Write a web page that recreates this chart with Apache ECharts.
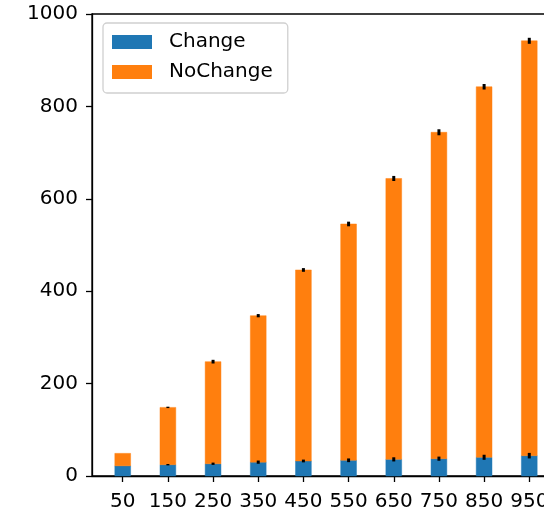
<!DOCTYPE html>
<html>
<head>
<meta charset="utf-8">
<script src="https://cdn.jsdelivr.net/npm/echarts@6/dist/echarts.min.js"></script>
<style>
  html, body { margin: 0; padding: 0; background: #fff; }
  #chart { width: 544px; height: 512px; }
</style>
</head>
<body>
<div id="chart"></div>
<script>
// Group labels along the x axis
var categories = ['50', '150', '250', '350', '450', '550', '650', '750', '850', '950'];
// Mean counts per group
var changeValues   = [22, 24.5, 26.5, 30, 32.5, 34, 36, 37.5, 40.5, 44];
var noChangeValues = [27, 124, 221, 317, 413.5, 511.5, 608, 706.5, 802, 898];
// Half-length of the error bar drawn at the top of each segment
var changeErrors   = [0, 1.5, 2.5, 3.5, 3, 4, 4.5, 4.5, 5.5, 6];
var noChangeErrors = [0, 1.5, 4, 3.5, 4, 5, 5.5, 6.5, 6, 6.5];
// Y axis ticks
var yTicks = [0, 200, 400, 600, 800, 1000];

var FONT = 'DejaVu Sans';
var BLUE = '#1f77b4';
var ORANGE = '#ff7f0e';
var BAR_FRACTION = 0.35;

var idx = categories.map(function (_, i) { return i; });
var totals = changeValues.map(function (v, i) { return v + noChangeValues[i]; });

// Stacked segment: [index, bottom, top]
function barSeries(name, color, edge, bottoms, tops) {
  return {
    name: name,
    type: 'custom',
    z: 2,
    itemStyle: { color: color },
    data: tops.map(function (v, i) { return [i, bottoms[i], v]; }),
    renderItem: function (params, api) {
      var x = api.value(0);
      var p0 = api.coord([x, api.value(1)]);
      var p1 = api.coord([x, api.value(2)]);
      var w = api.size([1, 0])[0] * BAR_FRACTION;
      return {
        type: 'rect',
        shape: { x: p0[0] - w / 2, y: p1[1], width: w, height: p0[1] - p1[1] },
        style: { fill: color, stroke: edge, lineWidth: 1 }
      };
    }
  };
}

function errorSeries(tops, errs) {
  return {
    type: 'custom',
    silent: true,
    z: 5,
    data: tops.map(function (v, i) { return [i, v, errs[i]]; }),
    renderItem: function (params, api) {
      var e = api.value(2);
      if (!e) return null;
      var x = api.value(0), y = api.value(1);
      var p1 = api.coord([x, y - e]);
      var p2 = api.coord([x, y + e]);
      return {
        type: 'line',
        shape: { x1: p1[0], y1: p1[1], x2: p2[0], y2: p2[1] },
        style: { stroke: '#000', lineWidth: 3, lineCap: 'butt' }
      };
    }
  };
}

var zeros = changeValues.map(function () { return 0; });

var chart = echarts.init(document.getElementById('chart'), null, { renderer: 'canvas' });
chart.setOption({
  animation: false,
  backgroundColor: '#fff',
  textStyle: { fontFamily: FONT },
  grid: {
    left: 92, top: 14, width: 468, height: 462,
    outerBoundsMode: 'none',
    show: true, borderColor: '#000', borderWidth: 1.3, backgroundColor: 'transparent'
  },
  legend: {
    left: 103, top: 23,
    orient: 'vertical',
    itemWidth: 40, itemHeight: 14, itemGap: 10,
    padding: [9, 15, 11, 9],
    borderColor: '#d0d0d0', borderWidth: 1.3, borderRadius: 4,
    backgroundColor: 'rgba(255,255,255,0.8)',
    textStyle: { fontFamily: FONT, fontSize: 20, color: '#000', padding: [0, 0, 0, 12] },
    data: [
      { name: 'Change', icon: 'rect', itemStyle: { color: BLUE } },
      { name: 'NoChange', icon: 'rect', itemStyle: { color: ORANGE } }
    ]
  },
  xAxis: {
    type: 'value',
    min: -0.68, max: 9.68,
    splitLine: { show: false },
    axisLine: { show: true, onZero: false, lineStyle: { color: '#000', width: 1.3 } },
    axisTick: { show: true, length: 6, customValues: idx, lineStyle: { color: '#000', width: 1.3 } },
    axisLabel: {
      customValues: idx, margin: 16,
      fontFamily: FONT, fontSize: 20, color: '#000',
      formatter: function (v) { return categories[Math.round(v)]; }
    }
  },
  yAxis: {
    type: 'value',
    min: 0, max: 1000, interval: 200,
    splitLine: { show: false },
    axisLine: { show: true, onZero: false, lineStyle: { color: '#000', width: 1.3 } },
    axisTick: { show: true, length: 6, lineStyle: { color: '#000', width: 1.3 } },
    axisLabel: {
      margin: 14, fontFamily: FONT, fontSize: 20, color: '#000',
      customValues: yTicks,
      formatter: function (v) { return String(v); }
    }
  },
  series: [
    barSeries('Change', BLUE, 'rgba(31,119,180,0.45)', zeros, changeValues),
    barSeries('NoChange', ORANGE, 'rgba(255,127,14,0.45)', changeValues, totals),
    errorSeries(changeValues, changeErrors),
    errorSeries(totals, noChangeErrors)
  ]
});
</script>
</body>
</html>
